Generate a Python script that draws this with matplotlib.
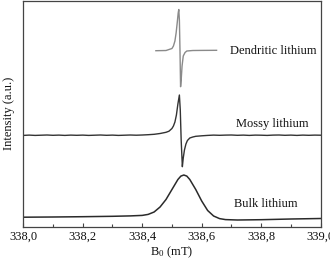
import matplotlib
matplotlib.use("Agg")
import matplotlib.pyplot as plt
from matplotlib.ticker import MultipleLocator, FuncFormatter

plt.rcParams['font.family'] = ['Liberation Serif', 'DejaVu Serif']
plt.rcParams['mathtext.fontset'] = 'stix'

# Dendritic lithium (short scan around the line)
dend_x = [338.446, 338.48, 338.50, 338.505, 338.510, 338.514, 338.518, 338.521,
          338.523, 338.525, 338.527, 338.529, 338.531, 338.534, 338.538, 338.544,
          338.550, 338.57, 338.60, 338.650]
dend_y = [176.0, 176.2, 178.2, 180.7, 185.7, 193.7, 204.7, 213.7,
          217.2, 206.7, 176.7, 140.0, 146.7, 160.7, 170.7, 174.2,
          175.7, 176.2, 176.3, 176.4]

# Mossy lithium
moss_x = [338.00, 338.02, 338.04, 338.06, 338.08, 338.10, 338.12, 338.14, 338.16,
          338.18, 338.20, 338.22, 338.24, 338.26, 338.28, 338.30, 338.32, 338.34,
          338.36, 338.38, 338.40, 338.42, 338.44, 338.46, 338.48, 338.49, 338.50,
          338.505, 338.51, 338.515, 338.52, 338.525, 338.528, 338.531, 338.535,
          338.538, 338.542, 338.547, 338.552, 338.56, 338.57, 338.58, 338.60,
          338.62, 338.64, 338.66, 338.68, 338.70, 338.72, 338.74, 338.76, 338.78,
          338.80, 338.82, 338.84, 338.86, 338.88, 338.90, 338.92, 338.94, 338.96,
          338.98, 339.00]
moss_y = [91.3, 91.6, 91.3, 91.5, 91.7, 91.4, 91.6, 91.3, 91.6,
          91.4, 91.6, 91.3, 91.5, 91.7, 91.4, 91.6, 91.3, 91.5,
          91.7, 91.5, 91.7, 92.0, 92.4, 93.2, 94.4, 95.5, 98.2,
          100.7, 104.7, 111.7, 122.7, 131.7, 116.7, 86.7, 60.0,
          68.7, 76.7, 82.7, 86.2, 88.7, 89.7, 90.4, 90.9,
          91.3, 91.6, 91.4, 91.6, 91.7, 91.4, 91.6, 91.3, 91.6,
          91.5, 91.3, 91.6, 91.7, 91.4, 91.6, 91.3, 91.6, 91.4,
          91.6, 91.5]

# Bulk lithium
bulk_x = [338.00, 338.10, 338.20, 338.30, 338.36, 338.40, 338.42, 338.44, 338.46,
          338.48, 338.50, 338.52, 338.53, 338.54, 338.55, 338.56, 338.58, 338.60,
          338.62, 338.64, 338.66, 338.68, 338.72, 338.80, 338.90, 339.00]
bulk_y = [9.5, 9.7, 10.0, 10.4, 10.8, 11.3, 12.3, 14.7, 19.7,
          27.2, 37.2, 47.2, 50.6, 51.7, 50.6, 47.2, 37.2, 25.7,
          16.2, 10.7, 8.1, 7.1, 6.7, 7.0, 7.7, 8.2]

xticks = [338.0, 338.2, 338.4, 338.6, 338.8, 339.0]

fig = plt.figure(figsize=(3.30, 2.59), dpi=100)
ax = fig.add_axes([0.0703, 0.1247, 0.9015, 0.8714])

ax.plot(dend_x, dend_y, color='#8a8a8a', lw=1.0)
ax.plot(moss_x, moss_y, color='#333333', lw=1.0)
ax.plot(bulk_x, bulk_y, color='#2a2a2a', lw=1.1)

ax.text(338.840, 176, 'Dendritic lithium', fontsize=9, ha='center', va='center', color='#111')
ax.text(338.836, 102.7, 'Mossy lithium', fontsize=9, ha='center', va='center', color='#111')
ax.text(338.816, 22.7, 'Bulk lithium', fontsize=9, ha='center', va='center', color='#111')

ax.set_xlim(338.0, 339.0)
ax.set_ylim(0, 225.7)
ax.set_xticks(xticks)
ax.xaxis.set_minor_locator(MultipleLocator(0.1))
ax.xaxis.set_major_formatter(FuncFormatter(lambda v, p: f"{v:.1f}".replace('.', ',')))
ax.tick_params(axis='x', which='both', direction='in', labelsize=9, pad=3,
               colors='#444', labelcolor='#111')
ax.tick_params(axis='x', which='major', length=3, width=0.8)
ax.tick_params(axis='x', which='minor', length=2, width=0.8)
ax.set_yticks([])

for s in ax.spines.values():
    s.set_color('#444')
    s.set_linewidth(0.9)

ax.set_xlabel(r'$\mathregular{B_0}$ (mT)', fontsize=9, labelpad=1, color='#111')
ax.set_ylabel('Intensity (a.u.)', fontsize=9, labelpad=6, color='#111')

fig.savefig('out.png', dpi=100)
